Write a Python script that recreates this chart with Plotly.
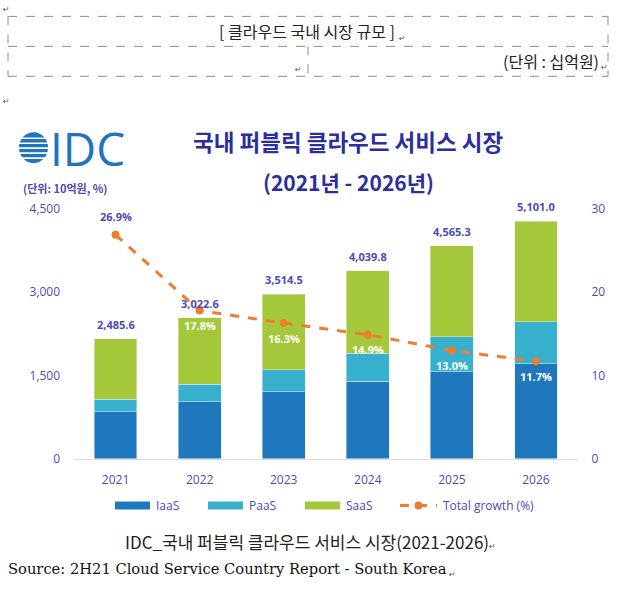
import plotly.graph_objects as go

# Values (bar heights follow the drawn bars)
years = [2021, 2022, 2023, 2024, 2025, 2026]
iaas = [850, 1030, 1210, 1400, 1565, 1715]
paas = [225, 315, 395, 500, 630, 755]
saas = [1085, 1195, 1360, 1485, 1640, 1810]
total_labels = ["2,485.6", "3,022.6", "3,514.5", "4,039.8", "4,565.3", "5,101.0"]
growth = [26.9, 17.8, 16.3, 14.9, 13.0, 11.7]

W, H = 624, 595
# the photographed page comes out slightly squeezed vertically; these undo it
Y_OFF, Y_SCALE = 7.6, 0.973


def px(x):
    return x / W


def py(y):
    return 1 - (y - Y_OFF) / Y_SCALE / H


BLUE_TXT = "#4b4bb8"
TITLE = "#2b2f9e"
ORANGE = "#ed7d31"
C_IAAS, C_PAAS, C_SAAS = "#1f77bd", "#36b0cc", "#a5c83b"
KR = "Noto Sans CJK KR"
EN = "Open Sans"
CLEAR = "rgba(0,0,0,0)"

fig = go.Figure()

fig.add_trace(go.Bar(x=years, y=iaas, name="IaaS", marker_color=C_IAAS, showlegend=False))
fig.add_trace(go.Bar(x=years, y=paas, name="PaaS", marker_color=C_PAAS, showlegend=False))
fig.add_trace(go.Bar(x=years, y=saas, name="SaaS", marker_color=C_SAAS, showlegend=False))

# growth line on the right axis
fig.add_trace(go.Scatter(
    x=years, y=growth, yaxis="y2", mode="lines+markers",
    line=dict(color=ORANGE, width=3, dash="dash"),
    marker=dict(color=ORANGE, size=8),
    cliponaxis=False, showlegend=False,
))

annotations = []
shapes = []

# total labels above each bar
for yr, a, b, c, lab in zip(years, iaas, paas, saas, total_labels):
    annotations.append(dict(x=yr, y=a + b + c, xref="x", yref="y", text=f"<b>{lab}</b>",
                            showarrow=False, yanchor="bottom", yshift=5,
                            font=dict(family=EN, size=11, color=BLUE_TXT)))

# growth labels: first one above the point, the rest below it in white
for i, (yr, g) in enumerate(zip(years, growth)):
    first = i == 0
    annotations.append(dict(x=yr, y=g, xref="x", yref="y2", text=f"<b>{g:.1f}%</b>",
                            showarrow=False, yanchor="middle", yshift=18 if first else -15,
                            font=dict(family=EN, size=11, color=BLUE_TXT if first else "white")))


def note(x, y, text, size=12, color="#222", family=KR, xanchor="center"):
    annotations.append(dict(x=px(x), y=py(y), xref="paper", yref="paper", text=text,
                            showarrow=False, xanchor=xanchor, yanchor="middle",
                            font=dict(family=family, size=size, color=color)))


def seg(x0, y0, x1, y1, color="#8c8c8c", width=1, dash="dash"):
    shapes.append(dict(type="line", xref="paper", yref="paper",
                       x0=px(x0), y0=py(y0), x1=px(x1), y1=py(y1),
                       line=dict(color=color, width=width, dash=dash)))


# document table header
seg(8, 15, 608, 15)
seg(8, 45, 608, 45)
seg(8, 75, 608, 75)
seg(8, 15, 8, 75)
seg(608, 15, 608, 75)
seg(308, 45, 308, 75)
note(307, 30, "[ 클라우드 국내 시장 규모 ]", size=16)
note(601, 60, "(단위 : 십억원)", size=16, xanchor="right")
for x, y in [(6, 8), (402, 37), (298, 68), (604, 66), (6, 100), (492, 546), (452, 574)]:
    note(x, y, "↵", size=8, color="#555", family="DejaVu Sans")

# IDC logo: striped globe + letters
shapes.append(dict(type="circle", xref="paper", yref="paper",
                   x0=px(19), x1=px(48), y0=py(162), y1=py(131),
                   fillcolor="#1f74bb", line=dict(width=0)))
for yy in [137, 142, 147, 152, 157]:
    seg(17, yy, 50, yy, color="white", width=1.6, dash="solid")
note(48, 147, "IDC", size=46, color="#1f74bb", family=EN, xanchor="left")

# chart title
note(348, 140, "<b>국내 퍼블릭 클라우드 서비스 시장</b>", size=22.5, color=TITLE)
note(348, 181, "<b>(2021년 - 2026년)</b>", size=21, color=TITLE)
note(21, 187, "<b>(단위: 10억원, %)</b>", size=11, color=BLUE_TXT, xanchor="left")

# legend drawn by hand
ly = 505
for x0, col, lab in [(115, C_IAAS, "IaaS"), (208, C_PAAS, "PaaS"), (305, C_SAAS, "SaaS")]:
    shapes.append(dict(type="rect", xref="paper", yref="paper",
                       x0=px(x0), x1=px(x0 + 35), y0=py(ly + 4), y1=py(ly - 4),
                       fillcolor=col, line=dict(width=0)))
    note(x0 + 39, ly, lab, size=12, color=BLUE_TXT, family=EN, xanchor="left")
seg(400, ly, 437, ly, color=ORANGE, width=3, dash="dash")
shapes.append(dict(type="circle", xref="paper", yref="paper",
                   x0=px(414.5), x1=px(422.5), y0=py(ly + 4), y1=py(ly - 4),
                   fillcolor=ORANGE, line=dict(width=0)))
note(441, ly, "Total growth (%)", size=12, color=BLUE_TXT, family=EN, xanchor="left")

# captions below the chart
note(307, 541, "IDC_국내 퍼블릭 클라우드 서비스 시장(2021-2026)", size=17)
note(6, 568, "Source: 2H21 Cloud Service Country Report - South Korea",
     size=14.7, color="#111", family="DejaVu Serif", xanchor="left")

fig.update_layout(
    width=W, height=H,
    margin=dict(l=0, r=0, t=0, b=0),
    paper_bgcolor="white", plot_bgcolor="white",
    barmode="stack", bargap=0.49,
    xaxis=dict(domain=[px(73.5), px(578)], range=[2020.5, 2026.5], tickvals=years,
               showline=True, linecolor="#dcdcdc", showgrid=False, zeroline=False,
               ticks="outside", ticklen=10, tickcolor=CLEAR,
               tickfont=dict(family=EN, size=12, color=BLUE_TXT)),
    yaxis=dict(domain=[py(458), py(208)], range=[0, 4500], tickvals=[0, 1500, 3000, 4500],
               tickformat=",", showgrid=False, zeroline=False,
               ticks="outside", ticklen=10, tickcolor=CLEAR,
               tickfont=dict(family=EN, size=12, color=BLUE_TXT)),
    yaxis2=dict(overlaying="y", side="right", range=[0, 30], tickvals=[0, 10, 20, 30],
                showgrid=False, zeroline=False,
                ticks="outside", ticklen=10, tickcolor=CLEAR,
                tickfont=dict(family=EN, size=12, color=BLUE_TXT)),
    annotations=annotations,
    shapes=shapes,
)

# strip the page's default spacing so the figure fills the window exactly
page_js = (
    "document.documentElement.style.margin='0';"
    "document.documentElement.style.overflow='hidden';"
    "document.body.style.margin='0';"
    "document.body.style.padding='0';"
    "document.body.style.overflow='hidden';"
)
fig.write_html("out.html", config={"displayModeBar": False}, post_script=page_js)
